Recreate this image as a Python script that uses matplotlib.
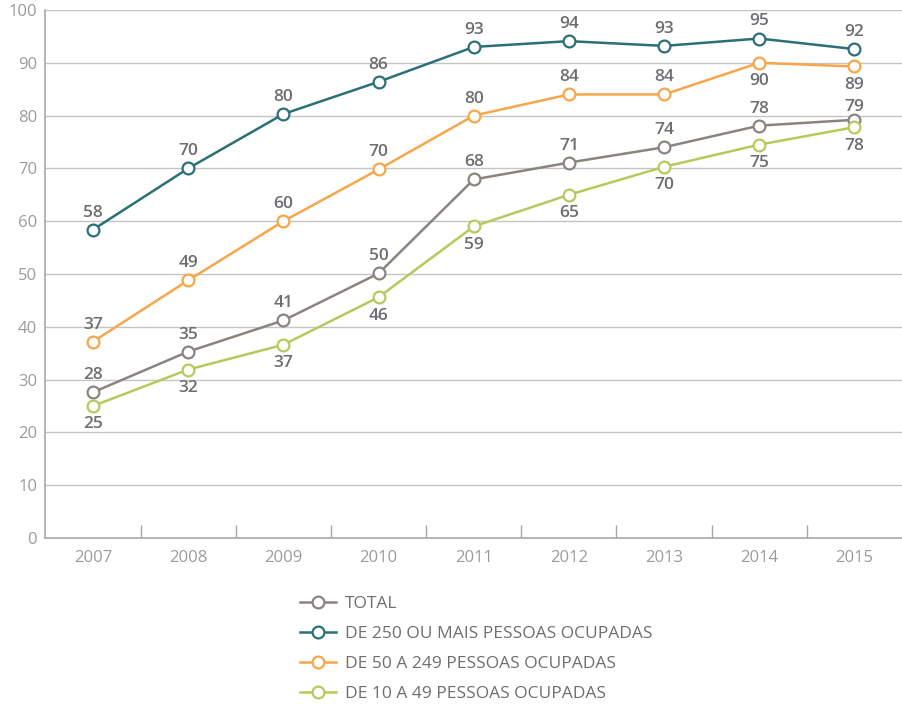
import matplotlib.pyplot as plt
import numpy as np

# Dados
anos = ['2007', '2008', '2009', '2010', '2011', '2012', '2013', '2014', '2015']
total = [27.6, 35.3, 41.2, 50.1, 67.9, 71.1, 74.0, 78.1, 79.2]
de_250 = [58.4, 70.0, 80.3, 86.4, 93.0, 94.1, 93.2, 94.6, 92.6]
de_50 = [37.2, 48.8, 60.0, 69.8, 80.0, 84.0, 84.0, 90.0, 89.3]
de_10 = [25.0, 31.9, 36.6, 45.6, 59.0, 65.0, 70.3, 74.5, 77.8]

rotulos_total = ['28', '35', '41', '50', '68', '71', '74', '78', '79']
rotulos_250 = ['58', '70', '80', '86', '93', '94', '93', '95', '92']
rotulos_50 = ['37', '49', '60', '70', '80', '84', '84', '90', '89']
rotulos_10 = ['25', '32', '37', '46', '59', '65', '70', '75', '78']

pos_50 = ['above'] * 7 + ['below'] * 2

plt.rcParams['font.family'] = ['Open Sans', 'DejaVu Sans']

fig = plt.figure(figsize=(9.02, 7.04), dpi=100)
ax = fig.add_axes([0.0504, 0.2358, 0.9496, 0.75])

x = np.arange(len(anos))
series = [
    ('TOTAL', total, '#8a847f', rotulos_total, ['above'] * 9),
    ('DE 250 OU MAIS PESSOAS OCUPADAS', de_250, '#2b6f79', rotulos_250, ['above'] * 9),
    ('DE 50 A 249 PESSOAS OCUPADAS', de_50, '#f7a64a', rotulos_50, pos_50),
    ('DE 10 A 49 PESSOAS OCUPADAS', de_10, '#b6ca5c', rotulos_10, ['below'] * 9),
]

for nome, vals, cor, rots, poss in series:
    ax.plot(x, vals, color=cor, lw=1.8, marker='o', ms=8.5,
            mfc='white', mec=cor, mew=1.6, label=nome, zorder=3)
    for i, (xi, v, r, p) in enumerate(zip(x, vals, rots, poss)):
        off = 6.5 if p == 'above' else -7.5
        # rótulos de 2015 muito próximos: aproxima um pouco do ponto
        if nome == 'TOTAL' and i == len(x) - 1:
            off = 3.5
        ax.annotate(r, (xi, v), xytext=(0, off), textcoords='offset points',
                    ha='center', va='bottom' if p == 'above' else 'top',
                    fontsize=12.5, fontweight='semibold', color='#6d6e71')

ax.set_xlim(-0.5, 8.5)
ax.set_ylim(0, 100)
ax.set_yticks(range(0, 101, 10))
ax.grid(axis='y', color='#c4c4c4', lw=1)
ax.set_axisbelow(True)

ax.set_xticks(x)
ax.set_xticklabels(anos)
ax.set_xticks(np.arange(0.5, 8.5, 1), minor=True)
ax.tick_params(axis='x', which='major', length=0, pad=9, labelsize=12, labelcolor='#9b9b9b')
ax.tick_params(axis='x', which='minor', direction='in', length=9.5, width=1, color='#a8a8a8')
ax.tick_params(axis='y', length=0, pad=6, labelsize=12, labelcolor='#9b9b9b')

for s in ['top', 'right']:
    ax.spines[s].set_visible(False)
for s in ['left', 'bottom']:
    ax.spines[s].set_color('#a8a8a8')
    ax.spines[s].set_linewidth(1.2)

fig.legend(loc='upper left', bbox_to_anchor=(0.3326, 0.154), frameon=False,
           fontsize=12.5, labelcolor='#6d6e71', handlelength=2.1,
           labelspacing=0.8, handletextpad=0.5, borderaxespad=0, borderpad=0)

fig.savefig('out.png', dpi=100)
